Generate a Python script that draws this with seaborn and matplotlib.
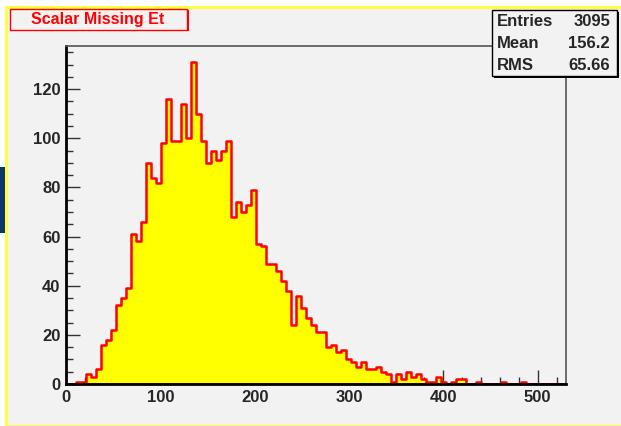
import numpy as np
import pandas as pd
import matplotlib
matplotlib.use('Agg')
import matplotlib.pyplot as plt
from matplotlib.patches import Rectangle
import seaborn as sns

# bin contents: 100 bins between 0 and 530
counts = [0, 0, 1, 1, 4, 3, 6, 16, 18, 22,
          32, 35, 39, 61, 58, 66, 90, 84, 82, 98,
          116, 99, 99, 114, 100, 131, 110, 99, 90, 95,
          91, 95, 99, 68, 74, 70, 73, 79, 57, 56,
          49, 49, 46, 42, 38, 24, 36, 31, 27, 24,
          21, 21, 15, 16, 13, 14, 10, 9, 7, 9,
          6, 6, 7, 5, 4, 1, 4, 2, 5, 3,
          4, 2, 1, 1, 3, 1, 0, 1, 2, 2,
          0, 0, 1, 0, 0, 0, 0, 1, 0, 0,
          0, 1, 0, 0, 0, 0, 0, 0, 0, 0]
x_min, x_max = 0, 530
title = 'Scalar Missing Et'
stat_names = ['Entries', 'Mean', 'RMS']
stat_values = ['3095', '156.2', '65.66']
x_ticks = [0, 100, 200, 300, 400, 500]
y_ticks = [0, 20, 40, 60, 80, 100, 120]

W, H = 621, 426
BG = '#f2f2f2'

sns.set_style('ticks')
plt.rcParams['font.family'] = ['Liberation Sans', 'DejaVu Sans']
plt.rcParams['font.weight'] = 'bold'

n_bins = len(counts)
edges = np.linspace(x_min, x_max, n_bins + 1)
df = pd.DataFrame({'met': (edges[:-1] + edges[1:]) / 2, 'n': counts})


def fx(x):
    return x / W


def fy(y):
    return 1 - y / H


fig = plt.figure(figsize=(W / 100, H / 100), dpi=100, facecolor='white')

# canvas: grey pad with yellow border, small dark block on the left edge
fig.add_artist(Rectangle((fx(6), 0), 1, fy(7), transform=fig.transFigure,
                         facecolor=BG, edgecolor='#ffff33', linewidth=2, zorder=0))
fig.add_artist(Rectangle((0, fy(233)), fx(5), fy(167) - fy(233), transform=fig.transFigure,
                         facecolor='#0b3669', edgecolor='none', zorder=0))

ax = fig.add_axes([fx(66), fy(384), fx(566) - fx(66), fy(46) - fy(384)])
ax.set_facecolor(BG)

sns.histplot(data=df, x='met', weights='n', bins=n_bins, binrange=(x_min, x_max),
             element='step', fill=True, facecolor='#ffff00', edgecolor='#ff0000',
             linewidth=1.8, alpha=1, ax=ax)

ax.set_xlim(x_min, x_max)
ax.set_ylim(0, max(counts) * 1.05)
ax.set_xlabel('')
ax.set_ylabel('')
ax.set_xticks(x_ticks)
ax.set_xticks(np.arange(0, x_max, 20), minor=True)
ax.set_yticks(y_ticks)
ax.set_yticks(np.arange(0, 136, 5), minor=True)
ax.tick_params(which='both', direction='in', color='#333333', width=1)
ax.tick_params(which='major', length=10, labelsize=12, pad=4)
ax.tick_params(which='minor', length=5)

for side in ['left', 'bottom']:
    ax.spines[side].set_linewidth(2)
    ax.spines[side].set_color('black')
for side in ['top', 'right']:
    ax.spines[side].set_visible(True)
    ax.spines[side].set_linewidth(1.2)
    ax.spines[side].set_color('#555555')

# title box with shadow
fig.add_artist(Rectangle((fx(12), fy(31)), fx(187) - fx(10), fy(9) - fy(30),
                         transform=fig.transFigure, facecolor='#ff0000', edgecolor='none', zorder=2))
fig.add_artist(Rectangle((fx(10), fy(30)), fx(187) - fx(10), fy(9) - fy(30),
                         transform=fig.transFigure, facecolor=BG, edgecolor='#ff0000',
                         linewidth=1, zorder=2))
fig.text(fx(98), fy(19.5), title, color='#ff0000', fontsize=11.5, fontweight='bold',
         ha='center', va='center', zorder=3)

# statistics box with shadow
fig.add_artist(Rectangle((fx(494), fy(78)), fx(617) - fx(492), fy(10) - fy(76),
                         transform=fig.transFigure, facecolor='black', edgecolor='none', zorder=2))
fig.add_artist(Rectangle((fx(492), fy(76)), fx(617) - fx(492), fy(10) - fy(76),
                         transform=fig.transFigure, facecolor=BG, edgecolor='black',
                         linewidth=1, zorder=2))
for i, (name, val) in enumerate(zip(stat_names, stat_values)):
    y = 21 + i * 22.5
    fig.text(fx(497), fy(y), name, fontsize=12, fontweight='bold', ha='left', va='center', zorder=3)
    fig.text(fx(610), fy(y), val, fontsize=12, fontweight='bold', ha='right', va='center', zorder=3)

fig.savefig('out.png', dpi=100, facecolor='white')
